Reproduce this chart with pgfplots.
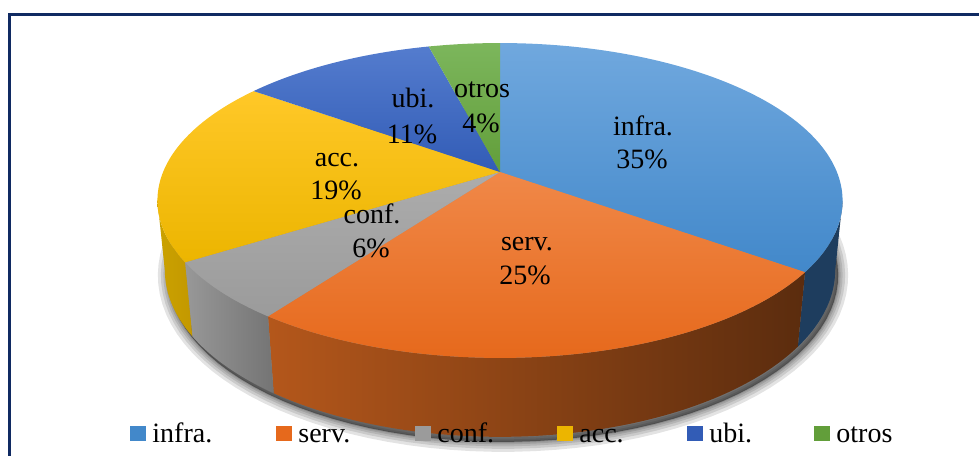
\documentclass[border=0pt]{standalone}
\usepackage{fontspec}
\setmainfont{Liberation Serif}
\usepackage{pgfplots}
\pgfplotsset{compat=1.18}

\definecolor{frame}{RGB}{16,42,98}
\definecolor{infraT}{RGB}{112,168,222}\definecolor{infraB}{RGB}{66,136,202}\definecolor{infraS}{RGB}{30,61,94}
\definecolor{servT}{RGB}{240,136,72}\definecolor{servB}{RGB}{230,105,28}
\definecolor{servSL}{RGB}{180,87,27}\definecolor{servSR}{RGB}{91,44,14}
\definecolor{confT}{RGB}{172,172,172}\definecolor{confB}{RGB}{155,155,155}
\definecolor{confSL}{RGB}{152,152,152}\definecolor{confSR}{RGB}{116,116,116}
\definecolor{accT}{RGB}{255,200,40}\definecolor{accB}{RGB}{236,181,0}
\definecolor{accSL}{RGB}{203,162,0}\definecolor{accSR}{RGB}{195,152,0}
\definecolor{ubiT}{RGB}{84,124,206}\definecolor{ubiB}{RGB}{50,92,182}
\definecolor{otrosT}{RGB}{124,182,92}\definecolor{otrosB}{RGB}{98,158,58}

% data (percent)
\def\pInfra{35}\def\pServ{25}\def\pConf{6}\def\pAcc{19}\def\pUbi{11}\def\pOtros{4}
\pgfmathsetmacro\tA{0}
\pgfmathsetmacro\tB{\tA+3.6*\pInfra}
\pgfmathsetmacro\tC{\tB+3.6*\pServ}
\pgfmathsetmacro\tD{\tC+3.6*\pConf}
\pgfmathsetmacro\tE{\tD+3.6*\pAcc}
\pgfmathsetmacro\tF{\tE+3.6*\pUbi}
\pgfmathsetmacro\tG{\tF+3.6*\pOtros}

\newcommand\topslice[4]{%
\addplot[draw=none, top color=#3, bottom color=#4, variable=\u, domain=-0.01:1, samples=102]
 ({\u<-0.005 ? 500 : px(#1+\u*(#2-#1))}, {\u<-0.005 ? 172 : py(#1+\u*(#2-#1))});}
\newcommand\sideslice[4]{%
\addplot[draw=none, left color=#3, right color=#4, variable=\u, domain=0:2.01, samples=202]
 ({\u<1.005 ? px(#1+min(\u,1)*(#2-#1)) : bx(#2-max(0,min(1,\u-1.01))*(#2-#1))},
  {\u<1.005 ? py(#1+min(\u,1)*(#2-#1)) : by(#2-max(0,min(1,\u-1.01))*(#2-#1))});}
\newcommand\shadowlayer[1]{%
\addplot[draw=black, line width=#1, draw opacity=0.11, fill=black, fill opacity=0.11, variable=\t, domain=0:360, samples=120]
 ({bx(\t)+3},{by(\t)+5});}

\begin{document}
\begin{tikzpicture}[declare function={
 kd(\t)=4.93+0.892*cos(\t);
 px(\t)=500+1661*sin(\t)/kd(\t);
 py(\t)=172-750.8*cos(\t)/kd(\t);
 bd(\t)=5.0358+0.892*cos(\t);
 bx(\t)=500+1661*sin(\t)/bd(\t);
 by(\t)=172-(750.8*cos(\t)-346.7)/bd(\t);
}]
\begin{axis}[scale only axis, width=489.5pt, height=227.5pt,
  xmin=0, xmax=979, ymin=0, ymax=455, y dir=reverse, hide axis, clip=false]
\coordinate (bl) at (axis cs:0,455);
\coordinate (tr) at (axis cs:979,0);
% shadow
\shadowlayer{10pt}
\shadowlayer{7pt}
\shadowlayer{4.5pt}
\shadowlayer{2.5pt}
\shadowlayer{1pt}
% sides
\sideslice{100.4}{\tB}{infraS}{infraS}
\sideslice{\tB}{\tC}{servSL}{servSR}
\sideslice{\tC}{\tD}{confSL}{confSR}
\sideslice{\tD}{259.6}{accSL}{accSR}
% tops
\topslice{\tA}{\tB}{infraT}{infraB}
\topslice{\tB}{\tC}{servT}{servB}
\topslice{\tC}{\tD}{confT}{confB}
\topslice{\tD}{\tE}{accT}{accB}
\topslice{\tE}{\tF}{ubiT}{ubiB}
\topslice{\tF}{\tG}{otrosT}{otrosB}
% labels
\begin{scope}[every node/.style={anchor=base, inner sep=0pt, font=\fontsize{14}{17}\selectfont}]
\node at (643,135) {infra.}; \node at (642,168) {\pInfra\%};
\node at (527,250) {serv.}; \node at (525,284) {\pServ\%};
\node at (372,223) {conf.}; \node at (371,257) {\pConf\%};
\node at (337,166) {acc.}; \node at (336,199) {\pAcc\%};
\node at (413,107) {ubi.}; \node at (412,143) {\pUbi\%};
\node at (482,97) {otros}; \node at (481,132) {\pOtros\%};
\end{scope}
% legend
\begin{scope}[every node/.style={anchor=base west, inner sep=0pt, font=\fontsize{14}{17}\selectfont}]
\node at (130,442) {\textcolor{infraB}{\rule[0.5pt]{8pt}{7.5pt}}\hspace{3pt}infra.};
\node at (276,442) {\textcolor{servB}{\rule[0.5pt]{8pt}{7.5pt}}\hspace{3pt}serv.};
\node at (415,442) {\textcolor{confB}{\rule[0.5pt]{8pt}{7.5pt}}\hspace{3pt}conf.};
\node at (557,442) {\textcolor{accB}{\rule[0.5pt]{8pt}{7.5pt}}\hspace{3pt}acc.};
\node at (687,442) {\textcolor{ubiB}{\rule[0.5pt]{8pt}{7.5pt}}\hspace{3pt}ubi.};
\node at (814,442) {\textcolor{otrosB}{\rule[0.5pt]{8pt}{7.5pt}}\hspace{3pt}otros};
\end{scope}
\draw[line width=1.25pt, frame] (9.7,14.5) rectangle (1000,480);
\end{axis}
\pgfresetboundingbox
\useasboundingbox (bl) rectangle (tr);
\end{tikzpicture}
\end{document}
